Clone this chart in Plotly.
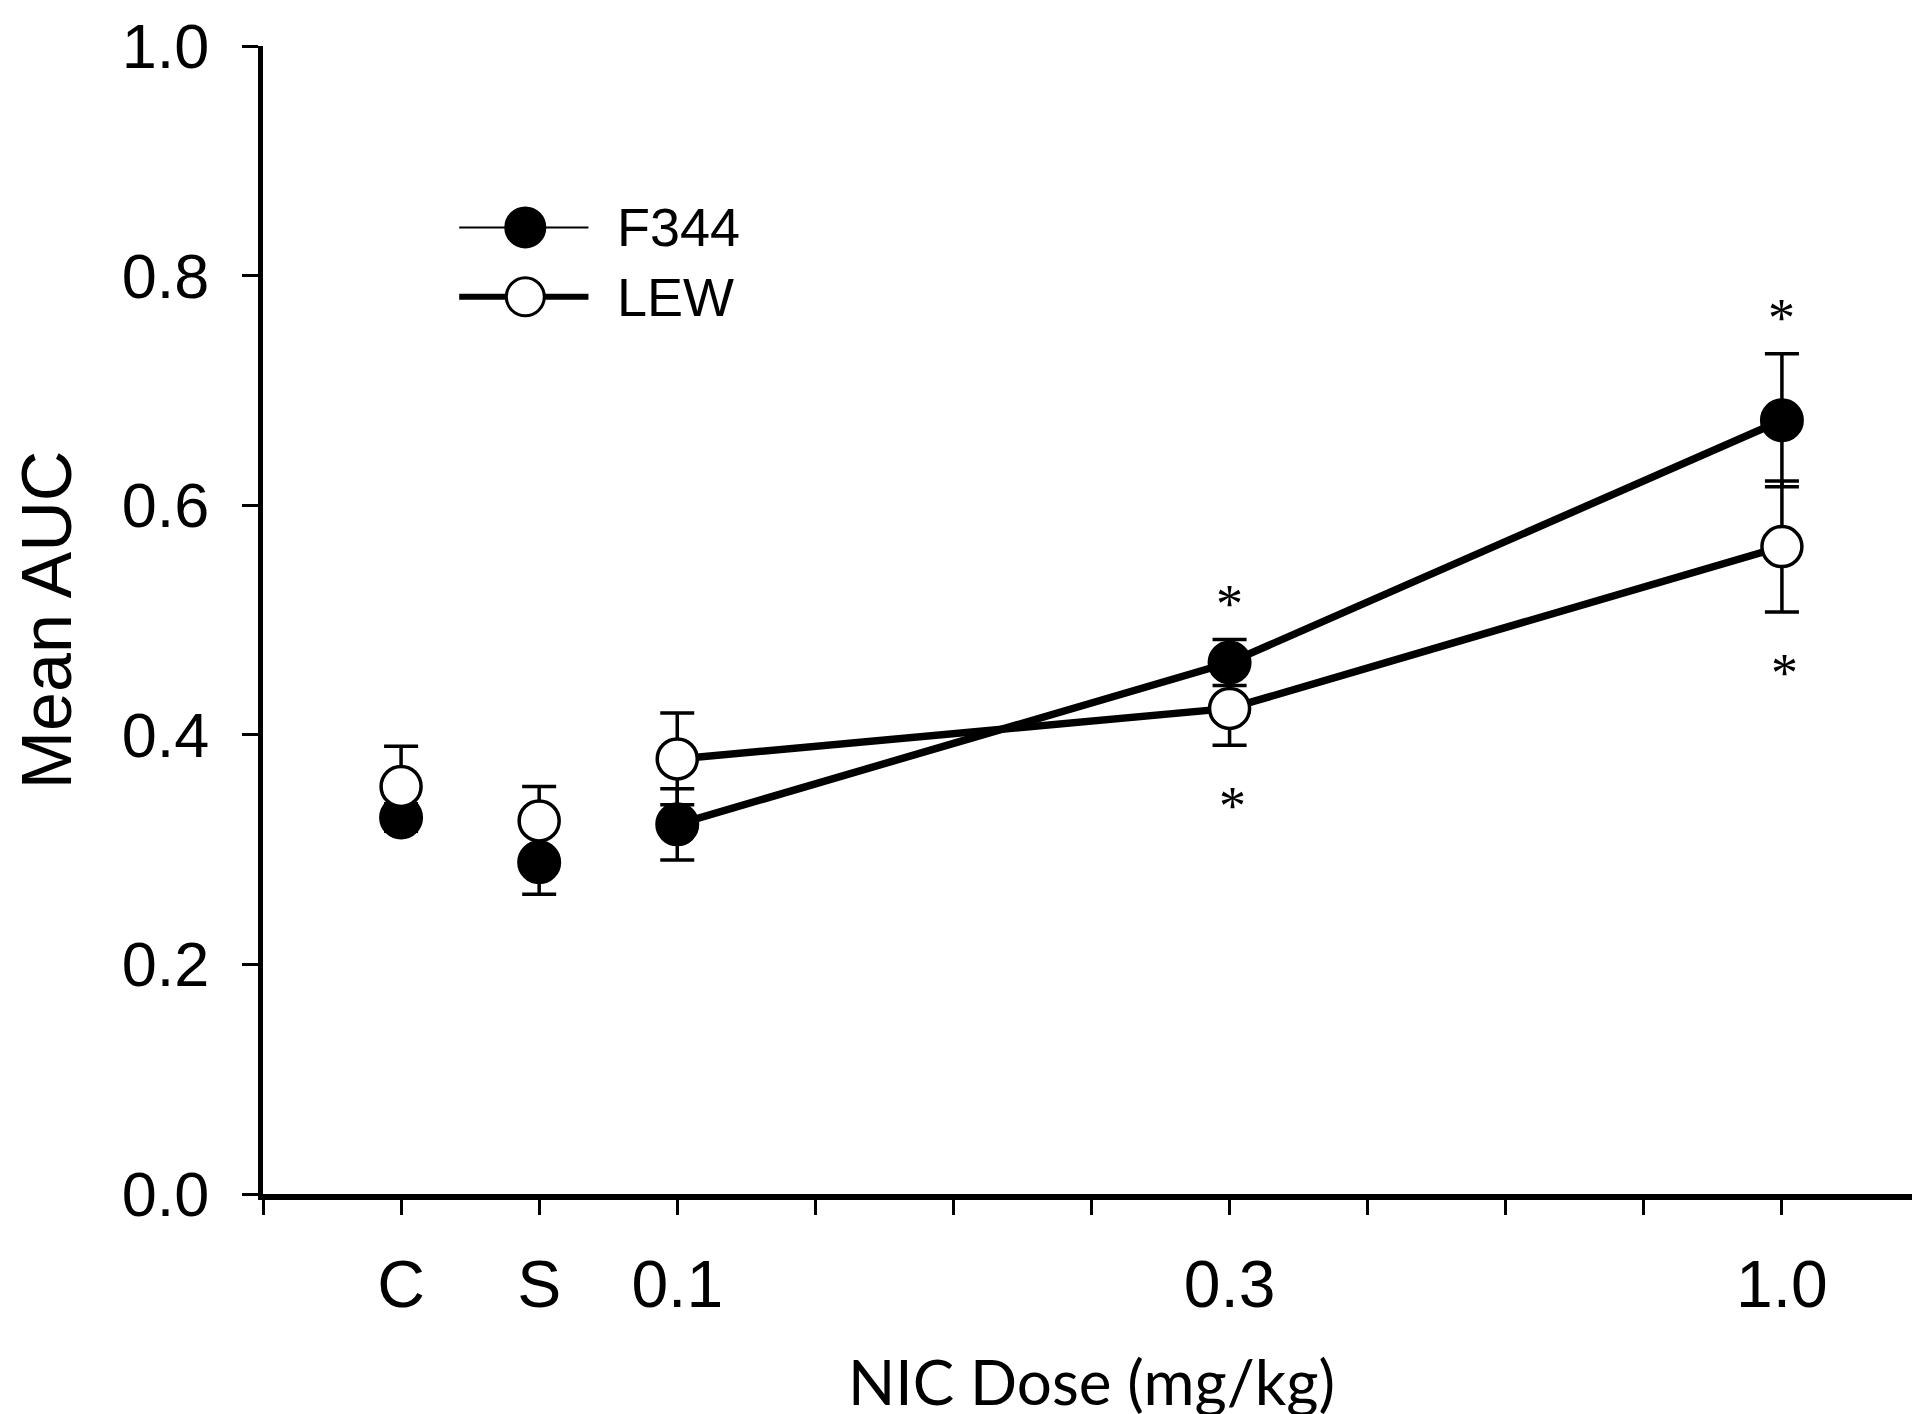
import plotly.graph_objects as go

# ---- data ----
x_pos = [1, 2, 3, 7, 11]
x_tick_vals = list(range(13))
x_tick_labels = ["", "C", "S", "0.1", "", "", "", "0.3", "", "", "", "1.0", ""]
y_tick_vals = [0.0, 0.2, 0.4, 0.6, 0.8, 1.0]

f344_mean = [0.328, 0.289, 0.322, 0.463, 0.674]
f344_err = [0.012, 0.028, 0.031, 0.020, 0.058]
f344_sig = [False, False, False, True, True]

lew_mean = [0.355, 0.325, 0.379, 0.423, 0.564]
lew_err = [0.035, 0.030, 0.040, 0.032, 0.057]
lew_sig = [False, False, False, True, True]

series_names = ["F344", "LEW"]
line_start = 2  # lines connect the nicotine doses only

# ---- styles ----
SANS = "Liberation Sans, Arial, sans-serif"
SERIF = "Liberation Serif, Times New Roman, serif"
MARKER = 42
ERR_W = 17
ERR_T = 3.5
LINE_W = 7.5

fig = go.Figure()

# connecting lines (drawn first, under markers)
fig.add_trace(go.Scatter(x=x_pos[line_start:], y=f344_mean[line_start:], mode="lines",
                         line=dict(color="black", width=LINE_W), showlegend=False, hoverinfo="skip"))
fig.add_trace(go.Scatter(x=x_pos[line_start:], y=lew_mean[line_start:], mode="lines",
                         line=dict(color="black", width=LINE_W), showlegend=False, hoverinfo="skip"))

# F344 markers with error bars
fig.add_trace(go.Scatter(
    x=x_pos, y=f344_mean, mode="markers", name=series_names[0], showlegend=False,
    marker=dict(symbol="circle", size=MARKER, color="black", line=dict(color="black", width=2)),
    error_y=dict(type="data", array=f344_err, visible=True, color="black", thickness=ERR_T, width=ERR_W),
))
# LEW markers with error bars
fig.add_trace(go.Scatter(
    x=x_pos, y=lew_mean, mode="markers", name=series_names[1], showlegend=False,
    marker=dict(symbol="circle", size=MARKER - 2, color="white", line=dict(color="black", width=3.5)),
    error_y=dict(type="data", array=lew_err, visible=True, color="black", thickness=ERR_T, width=ERR_W),
))

# significance asterisks: above F344 bars, below LEW bars
ABOVE = 0.035
BELOW = 0.049
annotations = []
for xv, m, e, s in zip(x_pos, f344_mean, f344_err, f344_sig):
    if s:
        annotations.append(dict(x=xv, y=m + e + ABOVE, xref="x", yref="y", text="*", showarrow=False,
                                font=dict(family=SERIF, size=54, color="black"),
                                xanchor="center", yanchor="middle", yshift=-5))
for xv, m, e, s in zip(x_pos, lew_mean, lew_err, lew_sig):
    if s:
        annotations.append(dict(x=xv, y=m - e - BELOW, xref="x", yref="y", text="*", showarrow=False,
                                font=dict(family=SERIF, size=54, color="black"),
                                xanchor="center", yanchor="middle", yshift=-5, xshift=3))

# ---- manual legend ----
LEG_X = 0.1583
LEG_LINE = (0.1184, 0.1964)
LEG_Y = [0.8420, 0.7815]
LEG_TEXT_X = 0.2125
shapes = [
    dict(type="line", xref="paper", yref="paper", x0=LEG_LINE[0], x1=LEG_LINE[1], y0=LEG_Y[0], y1=LEG_Y[0],
         line=dict(color="black", width=2)),
    dict(type="line", xref="paper", yref="paper", x0=LEG_LINE[0], x1=LEG_LINE[1], y0=LEG_Y[1], y1=LEG_Y[1],
         line=dict(color="black", width=6)),
    dict(type="circle", xref="paper", yref="paper", xsizemode="pixel", ysizemode="pixel",
         xanchor=LEG_X, yanchor=LEG_Y[0], x0=-20, x1=20, y0=-20, y1=20,
         fillcolor="black", line=dict(color="black", width=2)),
    dict(type="circle", xref="paper", yref="paper", xsizemode="pixel", ysizemode="pixel",
         xanchor=LEG_X, yanchor=LEG_Y[1], x0=-19, x1=19, y0=-19, y1=19,
         fillcolor="white", line=dict(color="black", width=3)),
]
for name, ly in zip(series_names, LEG_Y):
    annotations.append(dict(x=LEG_TEXT_X, y=ly, xref="paper", yref="paper", text=name, showarrow=False,
                            xanchor="left", yanchor="middle", font=dict(family=SANS, size=54, color="black")))

fig.update_layout(
    width=1920, height=1414,
    margin=dict(l=255, r=8, t=38, b=228),
    plot_bgcolor="white", paper_bgcolor="white",
    showlegend=False,
    shapes=shapes,
    annotations=annotations,
    xaxis=dict(
        range=[0, 12], tickmode="array", tickvals=x_tick_vals, ticktext=x_tick_labels,
        showline=True, linecolor="black", linewidth=6, mirror=False, automargin=False,
        ticks="outside", ticklen=15, tickwidth=2.5, tickcolor="black",
        showgrid=False, zeroline=False,
        tickfont=dict(family=SANS, size=66, color="black"),
        ticklabelstandoff=13, ticklabeloverflow="allow",
        title=dict(text="NIC Dose (mg/kg)", font=dict(family="Lato, Open Sans, sans-serif", size=62, color="black"),
                   standoff=43),
    ),
    yaxis=dict(
        range=[0, 1], tickmode="array", tickvals=y_tick_vals, tickformat=".1f",
        showline=True, linecolor="black", linewidth=5, automargin=False,
        ticks="outside", ticklen=16, tickwidth=3, tickcolor="black",
        showgrid=False, zeroline=False,
        tickfont=dict(family=SANS, size=63, color="black"),
        ticklabelstandoff=20, ticklabeloverflow="allow",
        title=dict(text="Mean AUC", font=dict(family=SANS, size=70, color="black"), standoff=47),
    ),
)

fig.write_html("out.html")
